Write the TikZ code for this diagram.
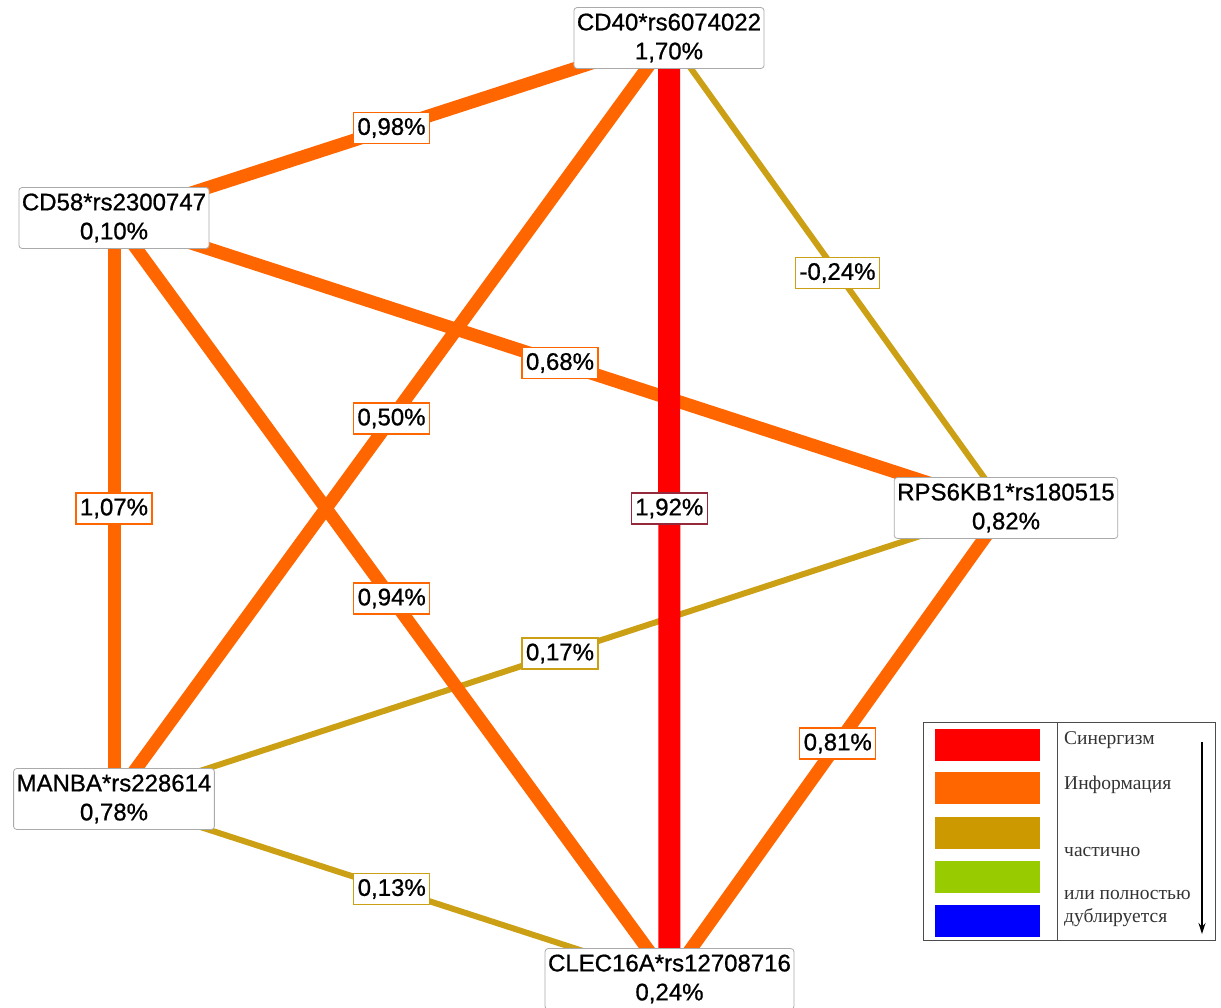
\documentclass[tikz,border=0pt]{standalone}
\usepackage{fontspec}
\setmainfont{Liberation Sans}[FakeBold=0.8]
\newfontfamily\nodefont{Liberation Sans}[FakeBold=0.8]
\newfontfamily\legfont{Liberation Serif}
\usetikzlibrary{arrows.meta}
\definecolor{cRed}{RGB}{255,0,0}
\definecolor{cOrange}{RGB}{255,102,0}
\definecolor{cGold}{RGB}{204,160,20}
\definecolor{cGoldL}{RGB}{204,153,0}
\definecolor{cGreen}{RGB}{153,204,0}
\definecolor{cBlue}{RGB}{0,0,255}
\definecolor{cMaroon}{RGB}{150,40,60}
\definecolor{cBorder}{RGB}{170,170,170}
\begin{document}
\begin{tikzpicture}[x=1pt,y=-1pt,
  gnode/.style={draw=cBorder,line width=0.8pt,fill=white,rounded corners=3pt,
    align=center,inner xsep=3pt,inner ysep=6pt,font=\nodefont\fontsize{24}{29}\selectfont},
  elabel/.style={fill=white,line width=1.2pt,inner xsep=4pt,inner ysep=5.5pt,
    font=\nodefont\fontsize{24}{29}\selectfont},
  redge/.style={draw=cRed,line width=22pt},
  oedge/.style={draw=cOrange,line width=13pt},
  gedge/.style={draw=cGold,line width=6pt},
  swatch/.style={draw=none,minimum width=105pt,minimum height=32pt,inner sep=0pt},
  legtext/.style={anchor=west,inner sep=0pt,text=black!80,font=\legfont\fontsize{19.5}{22}\selectfont}
]
\useasboundingbox (0,0) rectangle (1221,1007);

% node positions
\coordinate (pCD40) at (669,38);
\coordinate (pCD58) at (114,218);
\coordinate (pRPS) at (1006,508);
\coordinate (pMAN) at (114,799);
\coordinate (pCLEC) at (669.5,979);

% edges: gold first, then orange, then red
\draw[gedge] (pCD40) -- node[elabel,draw=cGold]{-0,24\%} (pRPS);
\draw[gedge] (pRPS) -- node[elabel,draw=cGold]{0,17\%} (pMAN);
\draw[gedge] (pMAN) -- node[elabel,draw=cGold]{0,13\%} (pCLEC);

\draw[oedge] (pCD40) -- (pCD58);
\draw[oedge] (pCD40) -- (pMAN);
\draw[oedge] (pCD58) -- (pMAN);
\draw[oedge] (pCD58) -- (pRPS);
\draw[oedge] (pCD58) -- (pCLEC);
\draw[oedge] (pRPS) -- (pCLEC);

\draw[redge] (pCD40) -- (pCLEC);

% edge labels
\path (pCD40) -- node[elabel,draw=cOrange]{0,98\%} (pCD58);
\path (pCD40) -- node[elabel,draw=cOrange]{0,50\%} (pMAN);
\path (pCD58) -- node[elabel,draw=cOrange]{1,07\%} (pMAN);
\path (pCD58) -- node[elabel,draw=cOrange]{0,68\%} (pRPS);
\path (pCD58) -- node[elabel,draw=cOrange]{0,94\%} (pCLEC);
\path (pRPS) -- node[elabel,draw=cOrange]{0,81\%} (pCLEC);
\path (pCD40) -- node[elabel,draw=cMaroon]{1,92\%} (pCLEC);

% nodes
\node[gnode] (CD40) at (pCD40) {CD40*rs6074022\\1,70\%};
\node[gnode] (CD58) at (pCD58) {CD58*rs2300747\\0,10\%};
\node[gnode] (RPS) at (pRPS) {RPS6KB1*rs180515\\0,82\%};
\node[gnode] (MAN) at (pMAN) {MANBA*rs228614\\0,78\%};
\node[gnode] (CLEC) at (pCLEC) {CLEC16A*rs12708716\\0,24\%};

% legend
\node[draw=black!70,line width=0.8pt,minimum width=292pt,minimum height=218pt,inner sep=0pt] (legend) at (1069,831) {};
\coordinate (divT) at (1057,723);
\coordinate (divB) at (1057,940);
\draw[black!70,line width=0.8pt] (divT) -- (divB);
\node[swatch,fill=cRed] (sw1) at (987.5,744.5) {};
\node[swatch,fill=cOrange] (sw2) at (987.5,788) {};
\node[swatch,fill=cGoldL] (sw3) at (987.5,832.5) {};
\node[swatch,fill=cGreen] (sw4) at (987.5,877) {};
\node[swatch,fill=cBlue] (sw5) at (987.5,920.5) {};
\node[legtext] (t1) at (1064,740) {Синергизм};
\node[legtext] (t2) at (1064,785) {Информация};
\node[legtext] (t3) at (1064,852) {частично};
\node[legtext] (t4) at (1064,895) {или полностью};
\node[legtext] (t5) at (1064,918) {дублируется};
\coordinate (arT) at (1202,742);
\coordinate (arB) at (1202,934);
\draw[black,line width=1.2pt,-{Stealth[length=11pt,width=7pt]}] (arT) -- (arB);
\end{tikzpicture}
\end{document}
